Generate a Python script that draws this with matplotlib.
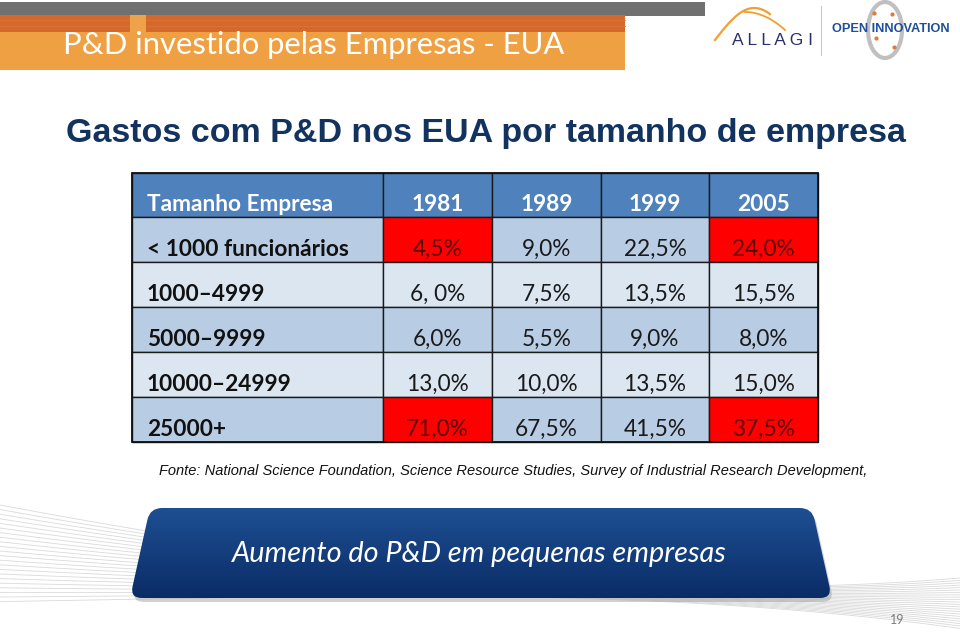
import numpy as np
import matplotlib
matplotlib.use('Agg')
import matplotlib.pyplot as plt
from matplotlib.patches import Rectangle, PathPatch, Ellipse
from matplotlib.path import Path

# table content
header_label = 'Tamanho Empresa'
years = ['1981', '1989', '1999', '2005']
size_labels = ['< 1000 funcionários', '1000–4999', '5000–9999',
               '10000–24999', '25000+']
share_1981 = ['4,5%', '6, 0%', '6,0%', '13,0%', '71,0%']
share_1989 = ['9,0%', '7,5%', '5,5%', '10,0%', '67,5%']
share_1999 = ['22,5%', '13,5%', '9,0%', '13,5%', '41,5%']
share_2005 = ['24,0%', '15,5%', '8,0%', '15,0%', '37,5%']
highlight = [(0, 0), (0, 3), (4, 0), (4, 3)]  # (row, year column)

slide_title = 'P&D investido pelas Empresas - EUA'
table_title = 'Gastos com P&D nos EUA por tamanho de empresa'
source = ('Fonte: National Science Foundation, Science Resource Studies, '
          'Survey of Industrial Research Development,')
banner_text = 'Aumento do P&D em pequenas empresas'
page_no = '19'

W, H = 960, 637
fig = plt.figure(figsize=(W / 100, H / 100), dpi=100)
ax = fig.add_axes([0, 0, 1, 1])
ax.set_xlim(0, W)
ax.set_ylim(H, 0)
ax.axis('off')

CAL = ['Lato', 'DejaVu Sans']
ARI = ['Liberation Sans', 'DejaVu Sans']


def rounded_poly(pts, r):
    """closed path through pts with rounded corners"""
    pts = np.asarray(pts, float)
    n = len(pts)
    verts, codes = [], []
    for i in range(n):
        p0, p1, p2 = pts[i - 1], pts[i], pts[(i + 1) % n]
        a = p1 + (p0 - p1) / np.linalg.norm(p0 - p1) * r
        b = p1 + (p2 - p1) / np.linalg.norm(p2 - p1) * r
        verts += [a, p1, b]
        codes += [Path.MOVETO if i == 0 else Path.LINETO, Path.CURVE3, Path.CURVE3]
    verts.append(verts[0])
    codes.append(Path.CLOSEPOLY)
    return Path(verts, codes)


# background swoosh lines
t = np.linspace(0, 1, 200)
for k in range(22):
    y0 = 505 + k * 4.6
    y3 = 578 + k * 2.4
    c1 = 565 + k * 1.5
    c2 = 605 - k * 1.0
    xs = 960 * t
    ys = (1 - t) ** 3 * y0 + 3 * (1 - t) ** 2 * t * c1 + 3 * (1 - t) * t ** 2 * c2 + t ** 3 * y3
    ax.plot(xs, ys, color='#dadada', lw=0.6, zorder=0)

# header bars
ax.add_patch(Rectangle((0, 2), 705, 14, color='#707070', lw=0, zorder=1))
ax.add_patch(Rectangle((0, 15), 625, 17, color='#d4692b', lw=0, zorder=2))
for yy in (20, 26):
    ax.plot([0, 625], [yy, yy], color='#dc7633', lw=0.6, zorder=2)
ax.add_patch(Rectangle((0, 32), 625, 38, color='#efa042', lw=0, zorder=2))
ax.add_patch(Rectangle((130, 15), 16, 17, color='#eea24a', lw=0, zorder=3))
ax.text(63, 54, slide_title, color='white', fontsize=22.3, family=CAL,
        va='baseline', ha='left', zorder=4)

# logos
sw = np.linspace(0, 1, 50)
ax.plot(715 + 55 * sw, 40 - 32 * np.sin(sw * 2.2), color='#f0a030', lw=1.6)
ax.plot(745 + 40 * sw, 12 + 18 * sw ** 2, color='#f0a030', lw=1.3)
ax.text(772, 45, 'A L L A G I', color='#2b2f6b', fontsize=12.5, family=ARI,
        ha='center', va='baseline')
ax.plot([821, 821], [6, 55], color='#c8c8c8', lw=0.8)
ax.add_patch(Ellipse((885, 30), 34, 56, fill=False, ec='#c0c0c0', lw=3))
for px, py in [(874, 13), (892, 14), (876, 38), (894, 47)]:
    ax.plot(px, py, 'o', ms=2, color='#e07a35')
ax.text(832, 32, 'OPEN INNOVATION', color='#1f4e9a', fontsize=9.2,
        family=ARI, weight='bold', ha='left', va='baseline')

# title
ax.text(486, 142, table_title, color='#12325f', fontsize=24.5, family=ARI,
        weight='bold', ha='center', va='baseline')

# table
col_edges = [132, 383, 492, 601, 709, 818]
row_edges = [173, 217, 262, 307, 352, 397, 442]
columns = [share_1981, share_1989, share_1999, share_2005]
band = ['#b8cce4', '#dce6f1']
fs = 16.3

# header row
for j in range(5):
    ax.add_patch(Rectangle((col_edges[j], row_edges[0]),
                           col_edges[j + 1] - col_edges[j], row_edges[1] - row_edges[0],
                           fc='#4f81bd', ec='#1a1a1a', lw=1, zorder=5))
ax.text(col_edges[0] + 15, row_edges[0] + 38, header_label, color='white',
        fontsize=fs, family=CAL, weight='bold', va='baseline', zorder=6)
for j, yr in enumerate(years):
    ax.text((col_edges[j + 1] + col_edges[j + 2]) / 2, row_edges[0] + 38, yr,
            color='white', fontsize=fs, family=CAL, weight='bold',
            ha='center', va='baseline', zorder=6)

# body
for i, lab in enumerate(size_labels):
    top = row_edges[i + 1]
    h = row_edges[i + 2] - top
    fc = band[i % 2]
    ax.add_patch(Rectangle((col_edges[0], top), col_edges[1] - col_edges[0], h,
                           fc=fc, ec='#1a1a1a', lw=1, zorder=5))
    ax.text(col_edges[0] + 15, top + 39, lab, color='#111111', fontsize=fs,
            family=CAL, weight='bold', va='baseline', zorder=6)
    for j, col in enumerate(columns):
        red = (i, j) in highlight
        ax.add_patch(Rectangle((col_edges[j + 1], top),
                               col_edges[j + 2] - col_edges[j + 1], h,
                               fc='#ff0000' if red else fc, ec='#1a1a1a',
                               lw=1, zorder=5))
        ax.text((col_edges[j + 1] + col_edges[j + 2]) / 2, top + 39, col[i],
                color='#5c0000' if red else '#1a1a1a', fontsize=fs,
                family=CAL, ha='center', va='baseline', zorder=6)

ax.add_patch(Rectangle((col_edges[0], row_edges[0]), col_edges[-1] - col_edges[0],
                       row_edges[-1] - row_edges[0], fill=False, ec='#111111',
                       lw=1.3, zorder=7))

# source
ax.text(513, 475, source, color='#111111', fontsize=10.5, family=ARI,
        style='italic', ha='center', va='baseline')

# bottom banner
shape = [(150, 508), (812, 508), (832, 598), (130, 598)]
shadow = PathPatch(rounded_poly([(x + 2, y + 4) for x, y in shape], 12),
                   fc='#9a9a9a', ec='none', alpha=0.45, zorder=8)
ax.add_patch(shadow)
banner = PathPatch(rounded_poly(shape, 12), fc='none', ec='none', zorder=9)
ax.add_patch(banner)
grad = np.linspace(0, 1, 100)[:, None]
c_top = np.array([0x1e, 0x4f, 0x93]) / 255
c_bot = np.array([0x0a, 0x2c, 0x66]) / 255
img = c_top * (1 - grad[..., None]) + c_bot * grad[..., None]
img = np.repeat(img, 2, axis=1)
im = ax.imshow(img, extent=(130, 832, 598, 508), aspect='auto', zorder=9,
               interpolation='bilinear')
im.set_clip_path(banner)
ax.text(479, 562, banner_text, color='white', fontsize=20.8, family=CAL,
        style='italic', ha='center', va='baseline', zorder=10)

ax.text(897, 624, page_no, color='#7f7f7f', fontsize=9, family=CAL,
        ha='center', va='baseline')

ax.set_xlim(0, W)
ax.set_ylim(H, 0)
fig.savefig('out.png', dpi=100)
